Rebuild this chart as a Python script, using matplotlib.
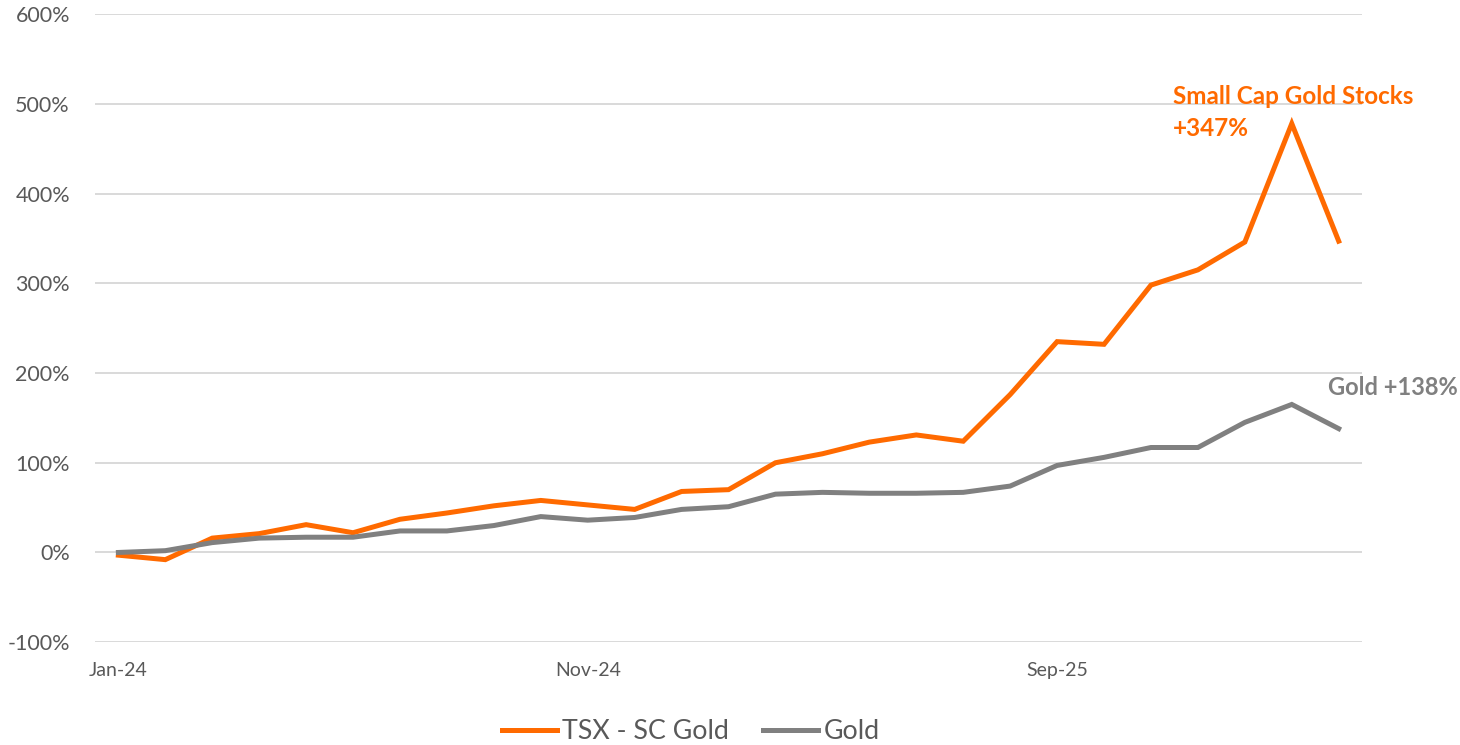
import matplotlib.pyplot as plt
import numpy as np

plt.rcParams['font.family'] = ['Lato', 'DejaVu Sans']

# monthly cumulative returns, Jan-24 .. Mar-26 (%)
months = ['Jan-24', 'Feb-24', 'Mar-24', 'Apr-24', 'May-24', 'Jun-24', 'Jul-24', 'Aug-24', 'Sep-24',
          'Oct-24', 'Nov-24', 'Dec-24', 'Jan-25', 'Feb-25', 'Mar-25', 'Apr-25', 'May-25', 'Jun-25',
          'Jul-25', 'Aug-25', 'Sep-25', 'Oct-25', 'Nov-25', 'Dec-25', 'Jan-26', 'Feb-26', 'Mar-26']
tsx_sc_gold = [-3, -8, 16, 21, 31, 22, 37, 44, 52, 58, 53, 48, 68, 70, 100, 110, 123, 131, 124,
               176, 235, 232, 298, 315, 346, 478, 347]
gold = [0, 2, 11, 16, 17, 17, 24, 24, 30, 40, 36, 39, 48, 51, 65, 67, 66, 66, 67,
        74, 97, 106, 117, 117, 145, 165, 138]
tick_labels = ['Jan-24', 'Nov-24', 'Sep-25']

orange = '#FF6A00'
grey = '#808080'
text_col = '#595959'

fig = plt.figure(figsize=(14.6, 7.45), dpi=100)
ax = fig.add_axes([0.065, 0.138, 0.868, 0.843])

x = np.arange(len(months))
ax.plot(x, tsx_sc_gold, color=orange, linewidth=3.6, label='TSX - SC Gold', solid_joinstyle='miter')
ax.plot(x, gold, color=grey, linewidth=3.6, label='Gold', solid_joinstyle='miter')

ax.set_xlim(-0.5, len(months) - 0.5)
ax.set_ylim(-100, 600)
ax.set_yticks(np.arange(-100, 601, 100))
ax.set_yticklabels([f'{v}%' for v in range(-100, 601, 100)])
ax.set_xticks([months.index(m) for m in tick_labels])
ax.set_xticklabels(tick_labels)
ax.tick_params(axis='y', length=0, pad=18, labelsize=15.5, labelcolor=text_col)
ax.tick_params(axis='x', length=0, pad=14, labelsize=14, labelcolor=text_col)
ax.grid(axis='y', color='#D9D9D9', linewidth=1.4)
ax.set_axisbelow(True)
for s in ax.spines.values():
    s.set_visible(False)

ax.text(22.47, 508, 'Small Cap Gold Stocks', color=orange, fontsize=17.5, fontweight='bold', va='center')
ax.text(22.47, 472, f'+{tsx_sc_gold[-1]}%', color=orange, fontsize=17.5, fontweight='bold', va='center')
ax.text(25.77, 184, f'Gold +{gold[-1]}%', color=grey, fontsize=17, fontweight='bold', va='center')

fig.legend(loc='center', bbox_to_anchor=(0.473, 0.018), ncol=2, frameon=False, fontsize=19.3,
           handlelength=2.05, handletextpad=0.19, columnspacing=1.3, labelcolor=text_col)

fig.savefig('out.png', dpi=100)
